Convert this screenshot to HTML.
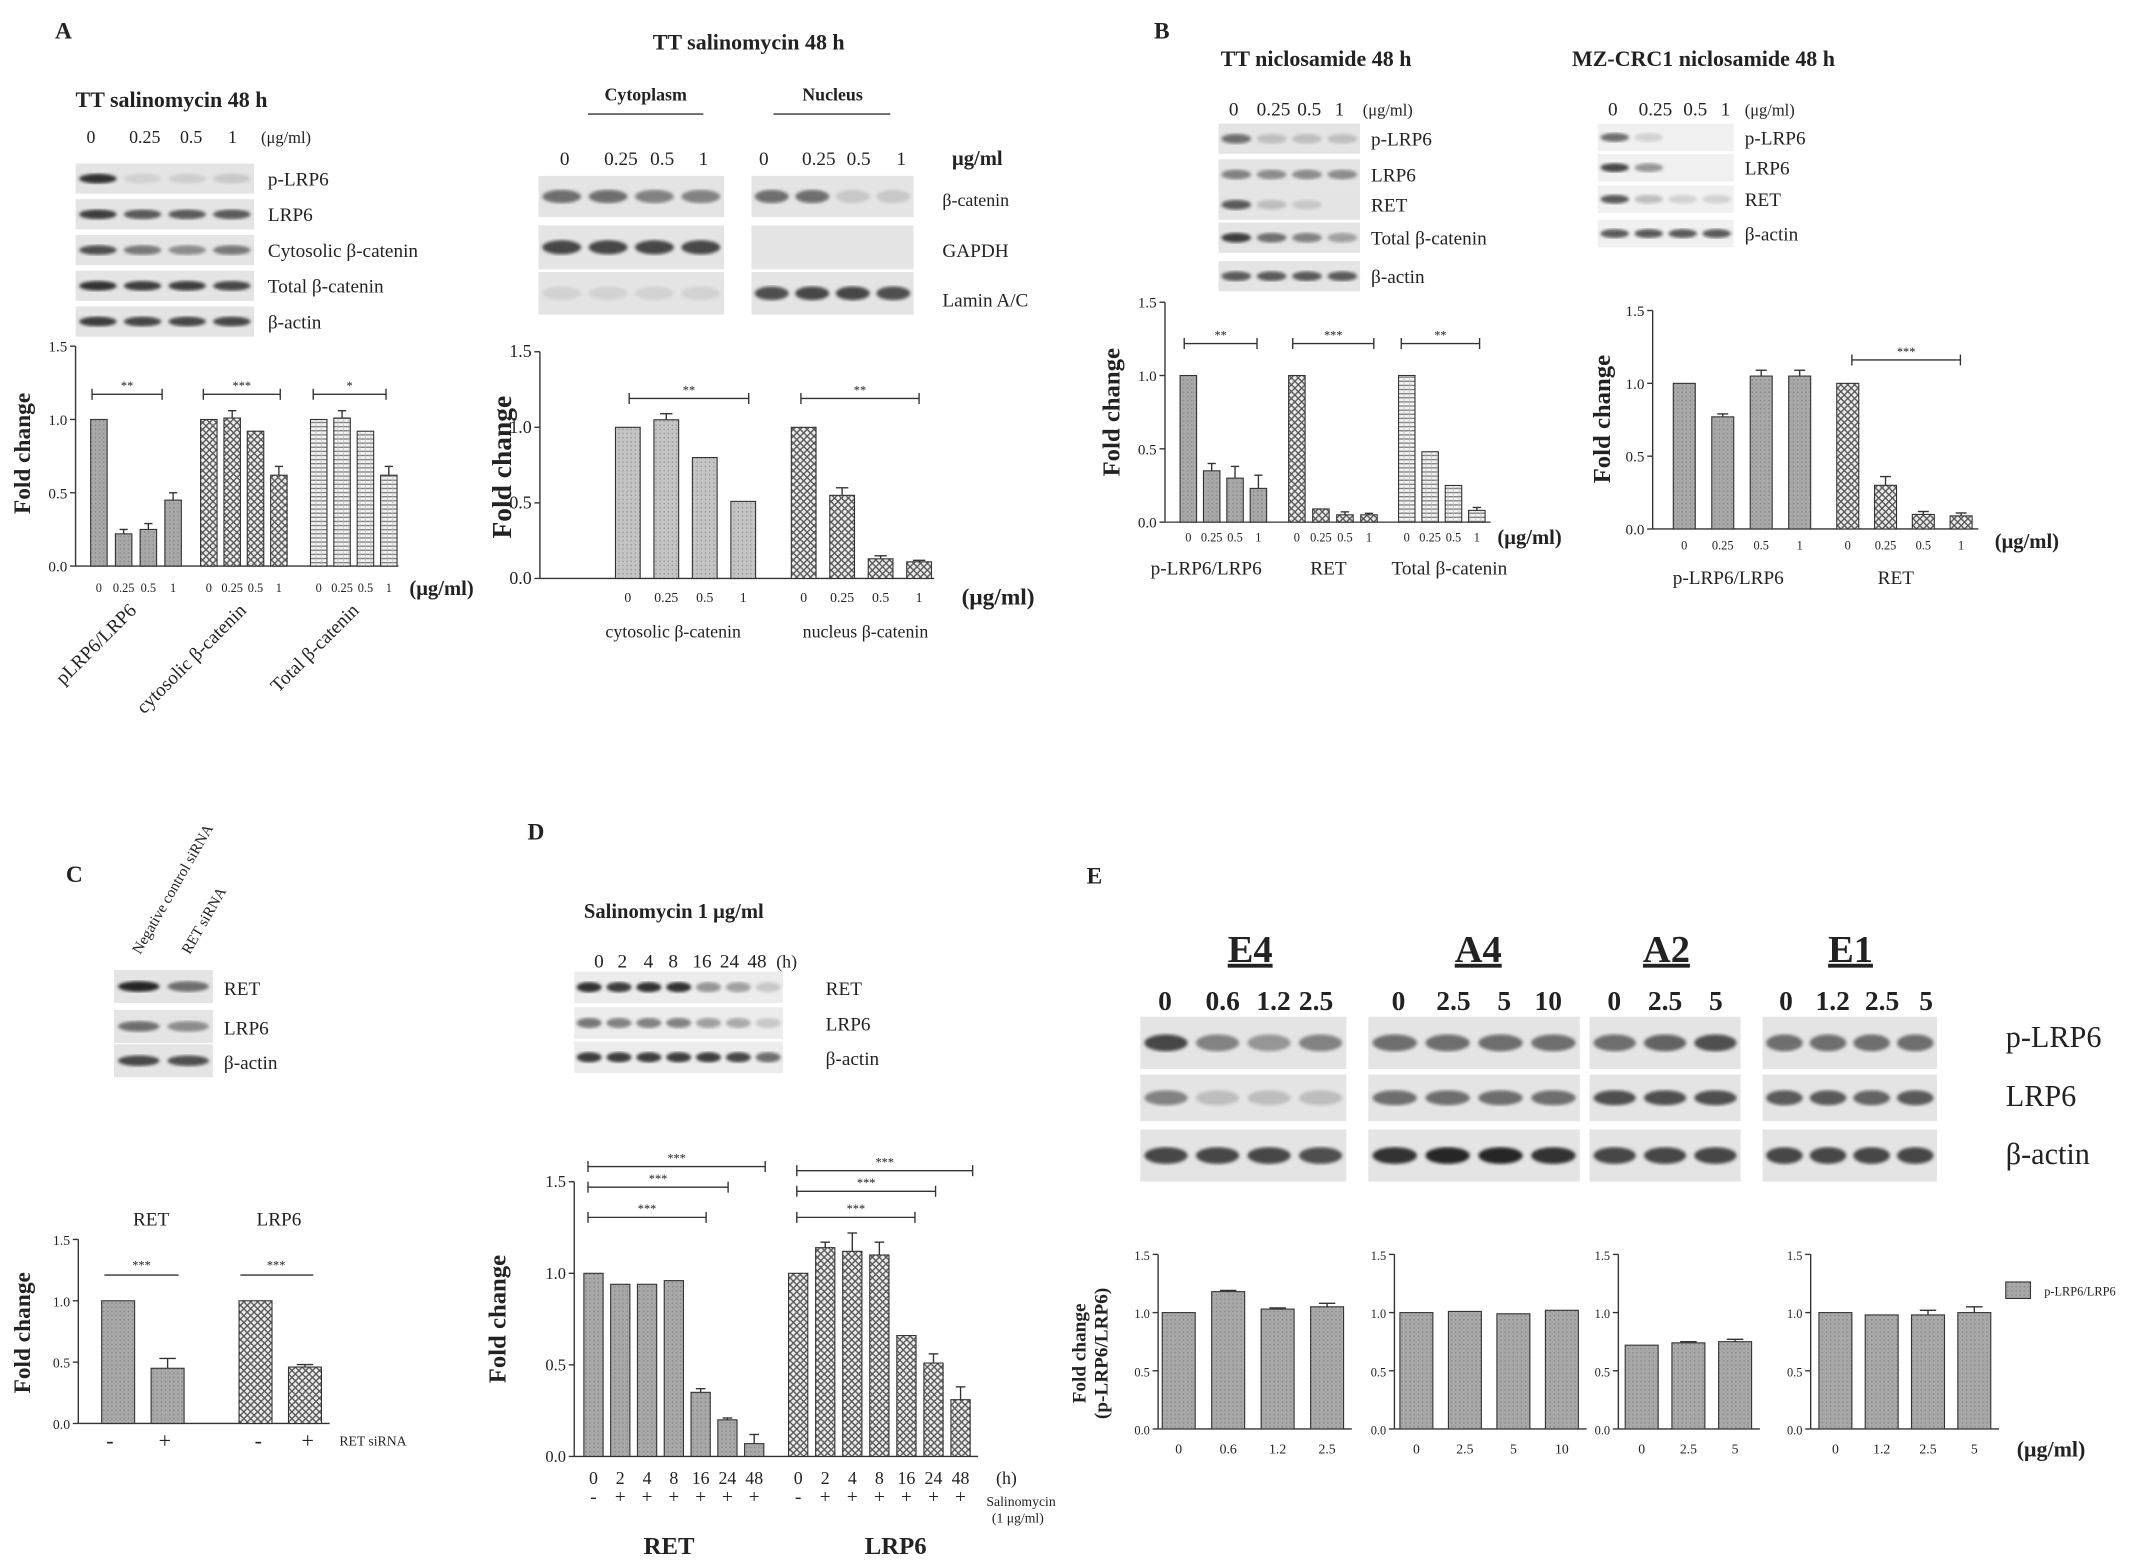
<!DOCTYPE html>
<html><head><meta charset="utf-8"><style>
html,body{margin:0;padding:0;background:#fff;}
svg{display:block;font-family:"Liberation Serif",serif;}
</style></head><body>
<svg id="fig" width="2150" height="1565" viewBox="0 0 1565 1139" preserveAspectRatio="none" xmlns="http://www.w3.org/2000/svg">
<defs>
<pattern id="pSolid" width="3" height="3" patternUnits="userSpaceOnUse"><rect width="3" height="3" fill="#a8a8a8"/><rect width="1" height="1" fill="#888"/></pattern>
<pattern id="pCross" width="5" height="5" patternUnits="userSpaceOnUse"><rect width="5" height="5" fill="#eee"/><path d="M0 0L5 5M5 0L0 5" stroke="#555" stroke-width="1"/></pattern>
<pattern id="pHoriz" width="4" height="3" patternUnits="userSpaceOnUse"><rect width="4" height="3" fill="#f2f2f2"/><path d="M0 1.5H4" stroke="#777" stroke-width="0.9"/><path d="M2 0V3" stroke="#bbb" stroke-width="0.5"/></pattern>
<pattern id="pLight" width="3" height="3" patternUnits="userSpaceOnUse"><rect width="3" height="3" fill="#c4c4c4"/><rect width="1" height="1" fill="#999"/></pattern>
<filter id="blur"><feGaussianBlur stdDeviation="1.2"/></filter>
</defs>
</svg>
<script>
// ---------- data ----------
const doseCats = ['0','0.25','0.5','1'];
const aPLRP6 = [1,0.22,0.25,0.45];
const aPLRP6Err = [0,0.03,0.04,0.05];
const aCyto = [1,1.01,0.92,0.62];
const aCytoErr = [0,0.05,0,0.06];
const aTotal = [1,1.01,0.92,0.62];
const aTotalErr = [0,0.05,0,0.06];
const a2Cyto = [1,1.05,0.8,0.51];
const a2CytoErr = [0,0.04,0,0];
const a2Nuc = [1,0.55,0.13,0.11];
const a2NucErr = [0,0.05,0.02,0.01];
const bPLRP6 = [1,0.35,0.3,0.23];
const bPLRP6Err = [0,0.05,0.08,0.09];
const bRET = [1,0.09,0.05,0.05];
const bRETErr = [0,0,0.02,0.01];
const bTotal = [1,0.48,0.25,0.08];
const bTotalErr = [0,0,0,0.02];
const mzPLRP6 = [1,0.77,1.05,1.05];
const mzPLRP6Err = [0,0.02,0.04,0.04];
const mzRET = [1,0.3,0.1,0.09];
const mzRETErr = [0,0.06,0.02,0.02];
const cCats = ['-','+'];
const cRET = [1,0.45];
const cRETErr = [0,0.08];
const cLRP6 = [1,0.46];
const cLRP6Err = [0,0.02];
const dCats = ['0','2','4','8','16','24','48'];
const dRET = [1,0.94,0.94,0.96,0.35,0.2,0.07];
const dRETErr = [0,0,0,0,0.02,0.01,0.05];
const dLRP6 = [1,1.14,1.12,1.1,0.66,0.51,0.31];
const dLRP6Err = [0,0.03,0.1,0.07,0,0.05,0.07];
const eE4Cats = ['0','0.6','1.2','2.5'];
const eE4 = [1,1.18,1.03,1.05];
const eE4Err = [0,0.01,0.01,0.03];
const eA4Cats = ['0','2.5','5','10'];
const eA4 = [1,1.01,0.99,1.02];
const eA4Err = [0,0,0,0];
const eA2Cats = ['0','2.5','5'];
const eA2 = [0.72,0.74,0.75];
const eA2Err = [0,0.01,0.02];
const eE1Cats = ['0','1.2','2.5','5'];
const eE1 = [1,0.98,0.98,1.0];
const eE1Err = [0,0,0.04,0.05];
const axisTicks = ['0.0','0.5','1.0','1.5'];

// ---------- helpers ----------
const NS = 'http://www.w3.org/2000/svg';
const svg = document.getElementById('fig');
function mk(tag, attrs) {
  const e = document.createElementNS(NS, tag);
  for (const k in attrs) e.setAttribute(k, attrs[k]);
  svg.appendChild(e);
  return e;
}
function txt(x, y, s, size, name, opts) {
  opts = opts || {};
  const t = mk('text', {x: x, y: y, 'font-size': size, fill: '#222', 'text-anchor': opts.anchor || 'start'});
  if (opts.bold) t.setAttribute('font-weight', 'bold');
  if (opts.rot) t.setAttribute('transform', 'rotate(' + opts.rot + ' ' + x + ' ' + y + ')');
  if (opts.underline) t.setAttribute('text-decoration', 'underline');
  t.textContent = s;
  
  
  return t;
}
function line(x1, y1, x2, y2, name, w) {
  const l = mk('line', {x1: x1, y1: y1, x2: x2, y2: y2, stroke: '#333', 'stroke-width': w || 1});
  
  
  return l;
}
function blot(x, y, w, h, lanes, intens, name, bg) {
  const r = mk('rect', {x: x, y: y, width: w, height: h, fill: bg || '#e4e4e4'});
  
  
  const step = w / lanes;
  for (let i = 0; i < lanes; i++) {
    const v = intens[i];
    if (v <= 0) continue;
    const g = Math.round(230 - v * 200);
    const b = mk('ellipse', {cx: x + step * (i + 0.5), cy: y + h / 2, rx: step * 0.42, ry: Math.max(2, h * 0.16), fill: 'rgb(' + g + ',' + g + ',' + g + ')', filter: 'url(#blur)'});
    
    
  }
}
function axis(ax, y0, ppu, name, fs) {
  line(ax, y0, ax, y0 - 1.5 * ppu, name + '-y-axis');
  axisTicks.forEach(function (t, i) {
    const y = y0 - i * 0.5 * ppu;
    line(ax - 4, y, ax, y, name + '-tick');
    txt(ax - 6, y + 4, t, fs || 11, name + '-tick-label', {anchor: 'end'});
  });
}
function bars(vals, errs, gx, step, w, y0, ppu, fill, name) {
  vals.forEach(function (v, i) {
    const cx = gx + i * step;
    const r = mk('rect', {x: cx - w / 2, y: y0 - v * ppu, width: w, height: v * ppu, fill: fill, stroke: '#333', 'stroke-width': 0.8});
    
    
    if (errs[i] > 0) {
      const top = y0 - (v + errs[i]) * ppu;
      line(cx, y0 - v * ppu, cx, top, name + '-error-bar');
      line(cx - w / 4, top, cx + w / 4, top, name + '-error-cap');
    }
  });
}
function xlabels(cats, gx, step, y, fs, name) {
  cats.forEach(function (c, i) { txt(gx + i * step, y, c, fs, name, {anchor: 'middle'}); });
}
function sig(x1, x2, y, stars, name) {
  line(x1, y, x2, y, name + '-bracket');
  line(x1, y - 4, x1, y + 4, name + '-bracket');
  line(x2, y - 4, x2, y + 4, name + '-bracket');
  txt((x1 + x2) / 2, y - 3, stars, 9, name + '-stars', {anchor: 'middle'});
}

// ---------- Panel A left ----------
txt(40, 28, 'A', 17, 'panel-a-label', {bold: true});
txt(55, 78, 'TT salinomycin  48 h', 16, 'a-left-title', {bold: true});
txt(63, 104, '0', 13, 'a-blot-dose'); txt(94, 104, '0.25', 13, 'a-blot-dose'); txt(131, 104, '0.5', 13, 'a-blot-dose'); txt(166, 104, '1', 13, 'a-blot-dose'); txt(190, 104, '(μg/ml)', 12, 'a-blot-unit');
[['p-LRP6',[0.9,0.1,0.12,0.15]],['LRP6',[0.85,0.7,0.7,0.7]],['Cytosolic β-catenin',[0.75,0.55,0.45,0.55]],['Total β-catenin',[0.9,0.85,0.85,0.8]],['β-actin',[0.85,0.8,0.8,0.8]]].forEach(function (r, i) {
  const y = 119 + i * 26;
  blot(55, y, 130, 22, 4, r[1], 'a-left-blot-' + i);
  txt(195, y + 16, r[0], 14, 'a-left-blot-label');
});
axis(55, 412, 106.7, 'a-left');
txt(22, 330, 'Fold change', 17, 'a-left-y-title', {bold: true, anchor: 'middle', rot: -90});
line(55, 412, 290, 412, 'a-left-x-axis');
bars(aPLRP6, aPLRP6Err, 72, 18, 12, 412, 106.7, 'url(#pSolid)', 'a-plrp6');
bars(aCyto, aCytoErr, 152, 17, 12, 412, 106.7, 'url(#pCross)', 'a-cyto');
bars(aTotal, aTotalErr, 232, 17, 12, 412, 106.7, 'url(#pHoriz)', 'a-total');
xlabels(doseCats, 72, 18, 431, 9, 'a-x-label');
xlabels(doseCats, 152, 17, 431, 9, 'a-x-label');
xlabels(doseCats, 232, 17, 431, 9, 'a-x-label');
txt(298, 433, '(μg/ml)', 15, 'a-left-unit', {bold: true});
sig(67, 118, 287, '**', 'a-sig1'); sig(148, 204, 287, '***', 'a-sig2'); sig(228, 281, 287, '*', 'a-sig3');
txt(100, 445, 'pLRP6/LRP6', 14, 'a-group-label', {anchor: 'end', rot: -45});
txt(180, 445, 'cytosolic β-catenin', 14, 'a-group-label', {anchor: 'end', rot: -45});
txt(262, 445, 'Total β-catenin', 14, 'a-group-label', {anchor: 'end', rot: -45});

// ---------- Panel A right ----------
txt(545, 36, 'TT salinomycin 48 h', 16, 'a-right-title', {bold: true, anchor: 'middle'});
txt(470, 73, 'Cytoplasm', 13, 'cytoplasm-label', {anchor: 'middle', bold: true}); line(428, 83, 512, 83, 'cytoplasm-underline');
txt(606, 73, 'Nucleus', 13, 'nucleus-label', {anchor: 'middle', bold: true}); line(563, 83, 648, 83, 'nucleus-underline');
[['0',411],['0.25',452],['0.5',482],['1',512],['0',556],['0.25',596],['0.5',625],['1',656]].forEach(function (d) { txt(d[1], 120, d[0], 14, 'a-right-dose', {anchor: 'middle'}); });
txt(693, 120, 'μg/ml', 15, 'a-right-unit', {bold: true});
blot(392, 128, 135, 30, 4, [0.6,0.6,0.5,0.5], 'cyto-bcatenin-blot');
blot(547, 128, 118, 30, 4, [0.6,0.6,0.15,0.15], 'nuc-bcatenin-blot');
blot(392, 164, 135, 32, 4, [0.8,0.8,0.8,0.8], 'cyto-gapdh-blot');
blot(547, 164, 118, 32, 4, [0,0,0,0], 'nuc-gapdh-blot');
blot(392, 198, 135, 31, 4, [0.1,0.1,0.1,0.1], 'cyto-lamin-blot');
blot(547, 198, 118, 31, 4, [0.75,0.8,0.8,0.75], 'nuc-lamin-blot');
txt(686, 150, 'β-catenin', 13, 'a-right-blot-label'); txt(686, 187, 'GAPDH', 14, 'a-right-blot-label'); txt(686, 223, 'Lamin A/C', 14, 'a-right-blot-label');
axis(393, 421, 110, 'a-right', 13);
txt(372, 340, 'Fold change', 20, 'a-right-y-title', {bold: true, anchor: 'middle', rot: -90});
line(393, 421, 680, 421, 'a-right-x-axis');
bars(a2Cyto, a2CytoErr, 457, 28, 18, 421, 110, 'url(#pLight)', 'a2-cyto');
bars(a2Nuc, a2NucErr, 585, 28, 18, 421, 110, 'url(#pCross)', 'a2-nuc');
xlabels(doseCats, 457, 28, 438, 10, 'a2-x-label');
xlabels(doseCats, 585, 28, 438, 10, 'a2-x-label');
txt(700, 440, '(μg/ml)', 17, 'a-right-x-unit', {bold: true});
sig(458, 545, 290, '**', 'a2-sig1'); sig(583, 669, 290, '**', 'a2-sig2');
txt(490, 464, 'cytosolic  β-catenin', 13, 'a2-group-label', {anchor: 'middle'});
txt(630, 464, 'nucleus β-catenin', 13, 'a2-group-label', {anchor: 'middle'});

// ---------- Panel B ----------
txt(840, 28, 'B', 17, 'panel-b-label', {bold: true});
txt(958, 48, 'TT niclosamide 48 h', 16, 'b-left-title', {bold: true, anchor: 'middle'});
txt(1240, 48, 'MZ-CRC1 niclosamide 48 h', 16, 'b-right-title', {bold: true, anchor: 'middle'});
[['0',898],['0.25',927],['0.5',953],['1',975]].forEach(function (d) { txt(d[1], 84, d[0], 14, 'b-dose', {anchor: 'middle'}); });
txt(992, 84, '(μg/ml)', 12, 'b-dose-unit');
[['0',1174],['0.25',1205],['0.5',1234],['1',1256]].forEach(function (d) { txt(d[1], 84, d[0], 14, 'mz-dose', {anchor: 'middle'}); });
txt(1270, 84, '(μg/ml)', 12, 'mz-dose-unit');
[['p-LRP6',[0.6,0.2,0.2,0.2]],['LRP6',[0.5,0.45,0.45,0.45]],['RET',[0.7,0.2,0.15,0]],['Total β-catenin',[0.85,0.6,0.5,0.35]],['β-actin',[0.7,0.7,0.7,0.7]]].forEach(function (r, i) {
  const y = [90,116,138,162,190][i];
  blot(887, y, 103, 22, 4, r[1], 'b-blot-' + i);
  txt(998, y + 16, r[0], 14, 'b-blot-label');
});
[['p-LRP6',[0.6,0.1,0,0]],['LRP6',[0.8,0.4,0,0]],['RET',[0.7,0.2,0.1,0.1]],['β-actin',[0.7,0.7,0.7,0.7]]].forEach(function (r, i) {
  const y = [90,112,135,160][i];
  blot(1163, y, 99, 20, 4, r[1], 'mz-blot-' + i, '#f0f0f0');
  txt(1270, y + 15, r[0], 14, 'mz-blot-label');
});
axis(848, 380, 106.7, 'b-left');
txt(815, 300, 'Fold change', 18, 'b-left-y-title', {bold: true, anchor: 'middle', rot: -90});
line(848, 380, 1085, 380, 'b-left-x-axis');
bars(bPLRP6, bPLRP6Err, 865, 17, 12, 380, 106.7, 'url(#pSolid)', 'b-plrp6');
bars(bRET, bRETErr, 944, 17.5, 12, 380, 106.7, 'url(#pCross)', 'b-ret');
bars(bTotal, bTotalErr, 1024, 17, 12, 380, 106.7, 'url(#pHoriz)', 'b-total');
xlabels(doseCats, 865, 17, 394, 9, 'b-x-label');
xlabels(doseCats, 944, 17.5, 394, 9, 'b-x-label');
xlabels(doseCats, 1024, 17, 394, 9, 'b-x-label');
txt(1090, 396, '(μg/ml)', 15, 'b-left-unit', {bold: true});
sig(862, 915, 250, '**', 'b-sig1'); sig(941, 1000, 250, '***', 'b-sig2'); sig(1020, 1077, 250, '**', 'b-sig3');
txt(878, 418, 'p-LRP6/LRP6', 14, 'b-group-label', {anchor: 'middle'});
txt(967, 418, 'RET', 14, 'b-group-label', {anchor: 'middle'});
txt(1055, 418, 'Total β-catenin', 14, 'b-group-label', {anchor: 'middle'});
axis(1203, 385, 106, 'b-right');
txt(1172, 305, 'Fold change', 18, 'b-right-y-title', {bold: true, anchor: 'middle', rot: -90});
line(1203, 385, 1440, 385, 'b-right-x-axis');
bars(mzPLRP6, mzPLRP6Err, 1226, 28, 16, 385, 106, 'url(#pSolid)', 'mz-plrp6');
bars(mzRET, mzRETErr, 1345, 27.5, 16, 385, 106, 'url(#pCross)', 'mz-ret');
xlabels(doseCats, 1226, 28, 400, 9, 'mz-x-label');
xlabels(doseCats, 1345, 27.5, 400, 9, 'mz-x-label');
txt(1452, 399, '(μg/ml)', 15, 'b-right-unit', {bold: true});
sig(1348, 1427, 262, '***', 'mz-sig');
txt(1258, 425, 'p-LRP6/LRP6', 14, 'mz-group-label', {anchor: 'middle'});
txt(1380, 425, 'RET', 14, 'mz-group-label', {anchor: 'middle'});

// ---------- Panel C ----------
txt(48, 642, 'C', 17, 'panel-c-label', {bold: true});
txt(102, 695, 'Negative control siRNA', 11, 'c-lane-label', {rot: -60});
txt(138, 695, 'RET siRNA', 11, 'c-lane-label', {rot: -60});
[['RET',[0.95,0.6]],['LRP6',[0.6,0.45]],['β-actin',[0.8,0.75]]].forEach(function (r, i) {
  const y = [706,735,760][i];
  blot(83, y, 72, 24, 2, r[1], 'c-blot-' + i);
  txt(163, y + 18, r[0], 14, 'c-blot-label');
});
axis(57, 1036, 89.3, 'c', 10);
txt(22, 970, 'Fold change', 17, 'c-y-title', {bold: true, anchor: 'middle', rot: -90});
line(57, 1036, 240, 1036, 'c-x-axis');
bars(cRET, cRETErr, 86, 36, 24, 1036, 89.3, 'url(#pSolid)', 'c-ret');
bars(cLRP6, cLRP6Err, 186, 36, 24, 1036, 89.3, 'url(#pCross)', 'c-lrp6');
txt(110, 892, 'RET', 14, 'c-group-label', {anchor: 'middle'}); txt(203, 892, 'LRP6', 14, 'c-group-label', {anchor: 'middle'});
line(76, 928, 130, 928, 'c-sig1'); txt(103, 924, '***', 9, 'c-sig1-stars', {anchor: 'middle'});
line(175, 928, 228, 928, 'c-sig2'); txt(201, 924, '***', 9, 'c-sig2-stars', {anchor: 'middle'});
xlabels(cCats, 80, 40, 1054, 16, 'c-x-label');
xlabels(cCats, 188, 36, 1054, 16, 'c-x-label');
txt(247, 1052, 'RET siRNA', 10, 'c-x-title');

// ---------- Panel D ----------
txt(384, 611, 'D', 17, 'panel-d-label', {bold: true});
txt(425, 668, 'Salinomycin  1 μg/ml', 15, 'd-title', {bold: true});
[436,453,472,490,511,531,551].forEach(function (x, i) { txt(x, 704, dCats[i], 14, 'd-blot-time', {anchor: 'middle'}); });
txt(565, 704, '(h)', 13, 'd-blot-unit');
[['RET',[0.9,0.85,0.9,0.9,0.4,0.35,0.15]],['LRP6',[0.55,0.5,0.5,0.5,0.35,0.3,0.15]],['β-actin',[0.85,0.85,0.85,0.85,0.85,0.8,0.6]]].forEach(function (r, i) {
  const y = [707,733,758][i];
  blot(418, y, 152, 23, 7, r[1], 'd-blot-' + i, '#ececec');
  txt(601, y + 17, r[0], 14, 'd-blot-label');
});
axis(418, 1060, 133.3, 'd', 12);
txt(368, 960, 'Fold change', 18, 'd-y-title', {bold: true, anchor: 'middle', rot: -90});
line(418, 1060, 712, 1060, 'd-x-axis');
bars(dRET, dRETErr, 432, 19.5, 14, 1060, 133.3, 'url(#pSolid)', 'd-ret');
bars(dLRP6, dLRP6Err, 581, 19.7, 14, 1060, 133.3, 'url(#pCross)', 'd-lrp6');
xlabels(dCats, 432, 19.5, 1080, 13, 'd-x-label');
xlabels(dCats, 581, 19.7, 1080, 13, 'd-x-label');
txt(725, 1080, '(h)', 13, 'd-x-unit');
xlabels(['-','+','+','+','+','+','+'], 432, 19.5, 1094, 14, 'd-treat-label');
xlabels(['-','+','+','+','+','+','+'], 581, 19.7, 1094, 14, 'd-treat-label');
txt(718, 1096, 'Salinomycin', 10, 'd-treat-title'); txt(722, 1108, '(1 μg/ml)', 10, 'd-treat-dose');
sig(428, 557, 849, '***', 'd-sig1'); sig(428, 530, 864, '***', 'd-sig2'); sig(428, 514, 886, '***', 'd-sig3');
sig(580, 708, 852, '***', 'd-sig4'); sig(580, 681, 867, '***', 'd-sig5'); sig(580, 666, 886, '***', 'd-sig6');
txt(487, 1131, 'RET', 18, 'd-group-label', {bold: true, anchor: 'middle'});
txt(652, 1131, 'LRP6', 18, 'd-group-label', {bold: true, anchor: 'middle'});

// ---------- Panel E ----------
txt(791, 643, 'E', 17, 'panel-e-label', {bold: true});
const eGroups = [
  {n:'E4', x:830, w:150, tx:910, cats:eE4Cats, lx:[848,890,927,958], p:[0.8,0.5,0.4,0.5], l:[0.5,0.2,0.2,0.2], a:[0.8,0.8,0.8,0.75]},
  {n:'A4', x:996, w:154, tx:1076, cats:eA4Cats, lx:[1018,1058,1095,1127], p:[0.6,0.6,0.6,0.6], l:[0.6,0.6,0.6,0.6], a:[0.9,0.95,0.95,0.9]},
  {n:'A2', x:1157, w:110, tx:1213, cats:eA2Cats, lx:[1175,1212,1249], p:[0.6,0.65,0.75], l:[0.75,0.75,0.75], a:[0.8,0.8,0.8]},
  {n:'E1', x:1283, w:127, tx:1347, cats:eE1Cats, lx:[1300,1334,1370,1402], p:[0.6,0.6,0.6,0.6], l:[0.7,0.7,0.65,0.7], a:[0.8,0.8,0.8,0.8]}
];
eGroups.forEach(function (g) {
  txt(g.tx, 700, g.n, 28, 'e-' + g.n + '-title', {bold: true, anchor: 'middle', underline: true});
  g.lx.forEach(function (x, i) { txt(x, 735, g.cats[i], 20, 'e-' + g.n + '-dose', {anchor: 'middle', bold: true}); });
  blot(g.x, 740, g.w, 38, g.cats.length, g.p, 'e-' + g.n + '-plrp6-blot');
  blot(g.x, 782, g.w, 34, g.cats.length, g.l, 'e-' + g.n + '-lrp6-blot');
  blot(g.x, 822, g.w, 38, g.cats.length, g.a, 'e-' + g.n + '-actin-blot');
});
txt(1460, 762, 'p-LRP6', 22, 'e-blot-label'); txt(1460, 805, 'LRP6', 22, 'e-blot-label'); txt(1460, 847, 'β-actin', 22, 'e-blot-label');
const ePPU = 84.7, eY0 = 1040;
[[843, eE4, eE4Err, eE4Cats, 858, 36, 'e4'], [1015, eA4, eA4Err, eA4Cats, 1031, 35.3, 'a4'], [1178, eA2, eA2Err, eA2Cats, 1195, 34, 'a2'], [1318, eE1, eE1Err, eE1Cats, 1336, 33.7, 'e1']].forEach(function (c) {
  axis(c[0], eY0, ePPU, 'e-' + c[6], 9);
  line(c[0], eY0, c[4] + c[5] * (c[1].length - 1) + 18, eY0, 'e-' + c[6] + '-x-axis');
  bars(c[1], c[2], c[4], c[5], 24, eY0, ePPU, 'url(#pSolid)', 'e-' + c[6]);
  xlabels(c[3], c[4], c[5], 1058, 10, 'e-' + c[6] + '-x-label');
});
txt(1468, 1060, '(μg/ml)', 16, 'e-x-unit', {bold: true});
txt(790, 985, 'Fold change', 14, 'e-y-title', {bold: true, anchor: 'middle', rot: -90});
txt(806, 985, '(p-LRP6/LRP6)', 14, 'e-y-title-2', {bold: true, anchor: 'middle', rot: -90});
const lg = mk('rect', {x: 1460, y: 933, width: 18, height: 12, fill: 'url(#pSolid)', stroke: '#333', 'stroke-width': 0.8});


txt(1488, 943, 'p-LRP6/LRP6', 9, 'legend-entry');
</script>
</body></html>
